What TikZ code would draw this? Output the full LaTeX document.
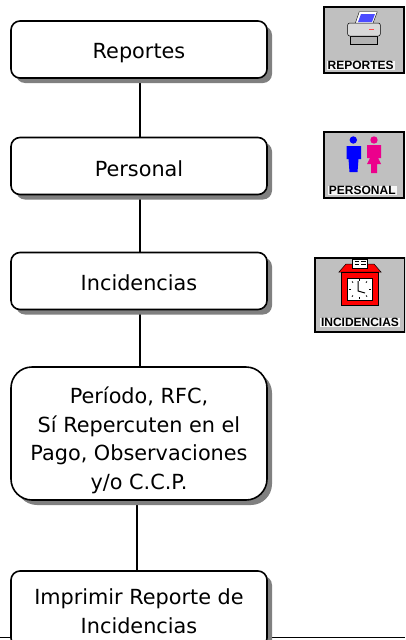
\documentclass[tikz,border=0pt]{standalone}
\usepackage{fontspec}
\setmainfont{DejaVu Sans}
\newfontfamily\iconfont{Liberation Sans}
\usetikzlibrary{shadows}
\definecolor{iconback}{RGB}{192,192,192}
\definecolor{shadowgray}{RGB}{128,128,128}
\tikzset{
  stepbox/.style={draw=black,line width=1.6pt,fill=white,rounded corners=9pt,minimum width=256pt,
    align=center,font=\fontsize{20.8}{28.5}\selectfont,inner sep=0pt,text depth=0pt,
    drop shadow={shadow xshift=5pt,shadow yshift=-5pt,fill=shadowgray,opacity=1}},
  iconbox/.style={draw=black,line width=1.8pt,fill=iconback,inner sep=0pt},
  iconlabel/.style={fill=white!85!iconback,inner xsep=1pt,inner ysep=0.5pt,font=\iconfont\fontsize{12}{12}\bfseries\selectfont},
  clockmark/.style={black,line width=1pt},
  link/.style={black,line width=1.1pt}
}
\begin{document}
\begin{tikzpicture}[x=1pt,y=-1pt]
\useasboundingbox (0,0) rectangle (405,640);
\clip (0,0) rectangle (405,640);
\draw [black,line width=1.6pt] (0,637.5) -- (405,637.5);
\coordinate (top4) at (137,500);
\coordinate (top5) at (137,571);
\draw [link] (140,50) -- (140,166);
\draw [link] (140,166) -- (140,281);
\draw [link] (140,281) -- (140,433);
\draw [link] (top4) -- (top5);
% steps
\node [stepbox,minimum height=57pt] (reportes) at (139,49.5) {\rule{0pt}{18pt}Reportes};
\node [stepbox,minimum height=57pt] (personal) at (139,166) {\rule{0pt}{20pt}Personal};
\node [stepbox,minimum height=57pt] (incidencias) at (139,281) {\rule{0pt}{18pt}Incidencias};
\node [stepbox,minimum height=133pt,rounded corners=21pt] (periodo) at (139,433.5) {\rule{0pt}{26pt}Período, RFC,\\Sí Repercuten en el\\Pago, Observaciones\\y/o C.C.P.};
\node [stepbox,minimum height=76pt] (imprimir) at (139,609) {\rule{0pt}{20pt}Imprimir Reporte de\\Incidencias};
% reportes icon
\node [iconbox,minimum width=80pt,minimum height=66pt] (iconrep) at (364,40) {};
\fill [white,draw=black,line width=0.4pt] (359.3,11.7) -- (377.3,11.7) -- (372.7,24) -- (355,24) -- cycle;
\fill [blue!70] (361,14) -- (375,14) -- (372,22) -- (358,22) -- cycle;
\fill [gray!60,draw=black,line width=0.5pt] (350.7,36) rectangle (377.3,44);
\fill [gray!30,draw=black,line width=0.5pt,rounded corners=2pt] (347.7,23) rectangle (380.3,36);
\fill [red!70] (369,28.5) rectangle (374,30);
\node [iconlabel] (lblrep) at (360.7,65.7) {REPORTES};
% personal icon
\node [iconbox,minimum width=80pt,minimum height=66pt] (iconper) at (364,165) {};
\fill [blue] (353.3,140) circle (3.7);
\fill [blue] (346.7,146) -- (361,146) -- (361,159) -- (358.5,159) -- (357.5,172) -- (349.5,172) -- (348.5,159) -- (346.7,159) -- cycle;
\fill [magenta] (374,140) circle (3.7);
\fill [magenta] (367,145) -- (381,145) -- (381,158) -- (378,158) -- (381,164) -- (377,164) -- (377,173) -- (371,173) -- (371,164) -- (367,164) -- (370,158) -- (367,158) -- cycle;
\node [iconlabel] (lblper) at (362.3,190.7) {PERSONAL};
% incidencias icon
\node [iconbox,minimum width=90pt,minimum height=74pt] (iconinc) at (360,295) {};
\fill [red,draw=black,line width=0.5pt] (339,272) -- (346,264) -- (374,264) -- (381,272) -- cycle;
\fill [white,draw=black,line width=0.5pt] (352.5,259) rectangle (367.5,268);
\draw [black,line width=0.5pt] (354.5,261.5) -- (359,261.5) (354.5,264) -- (359,264) (361,261.5) -- (365.5,261.5) (361,264) -- (365.5,264);
\fill [red,draw=black,line width=0.5pt] (341.7,272) rectangle (378.3,305);
\fill [white,draw=black,line width=0.5pt] (347.5,278) rectangle (372,300);
\draw [black,line width=1pt] (358,281) -- (358,291) -- (365,293);
\draw [clockmark] (359.5,279) -- (359.5,280.5) (359.5,297) -- (359.5,298.5) (349,289) -- (350.5,289) (369,289) -- (370.5,289);
\draw [clockmark] (352,281.5) -- (353,282.5) (367,281.5) -- (366,282.5) (352,296.5) -- (353,295.5) (367,296.5) -- (366,295.5);
\node [iconlabel] (lblinc) at (360,322.3) {INCIDENCIAS};
\end{tikzpicture}
\end{document}
